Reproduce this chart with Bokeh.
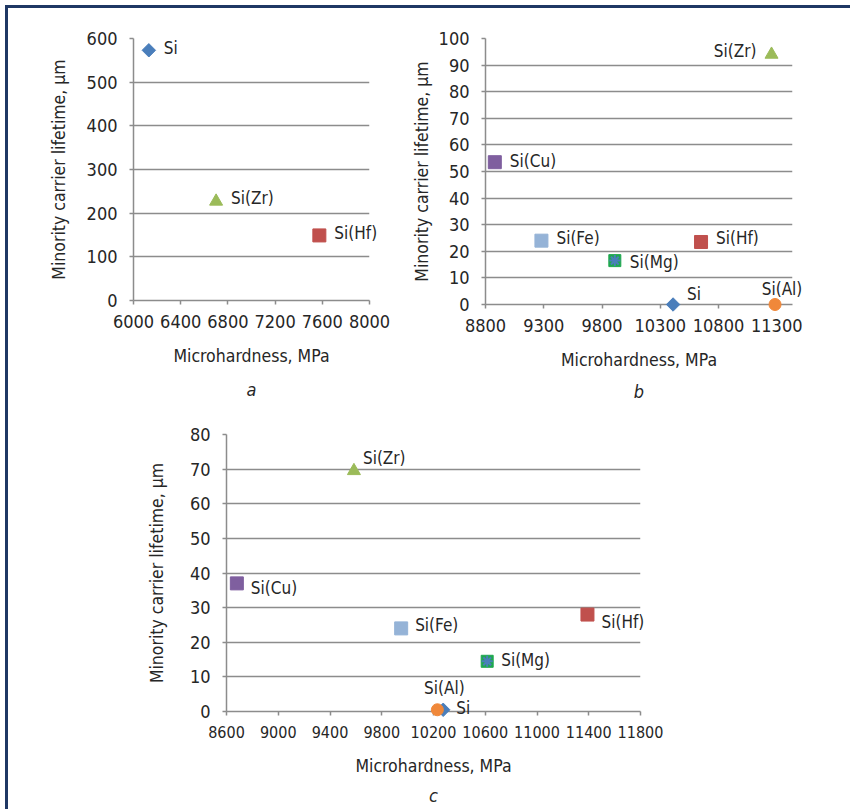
import math
from bokeh.plotting import figure
from bokeh.models import ColumnDataSource, Title, Range1d, FixedTicker, Spacer
from bokeh.layouts import column, row
from bokeh.core.properties import value
from bokeh.embed import file_html
from bokeh.resources import INLINE

# ---------------- data ----------------
a_names = ["Si", "Si(Zr)", "Si(Hf)"]
a_hardness = [6130, 6700, 7575]
a_lifetime = [573, 227, 149]

b_names = ["Si", "Si(Cu)", "Si(Fe)", "Si(Mg)", "Si(Hf)", "Si(Zr)", "Si(Al)"]
b_hardness = [10410, 8880, 9280, 9910, 10650, 11255, 11285]
b_lifetime = [0, 53.5, 24, 16.5, 23.5, 94, 0]

c_names = ["Si", "Si(Cu)", "Si(Fe)", "Si(Mg)", "Si(Hf)", "Si(Zr)", "Si(Al)"]
c_hardness = [10275, 8680, 9950, 10615, 11390, 9585, 10230]
c_lifetime = [0.5, 37, 24, 14.5, 28, 69.5, 0.5]

a_xticks = [6000, 6400, 6800, 7200, 7600, 8000]
a_yticks = [0, 100, 200, 300, 400, 500, 600]
b_xticks = [8800, 9300, 9800, 10300, 10800, 11300]
b_yticks = [0, 10, 20, 30, 40, 50, 60, 70, 80, 90, 100]
c_xticks = [8600, 9000, 9400, 9800, 10200, 10600, 11000, 11400, 11800]
c_yticks = [0, 10, 20, 30, 40, 50, 60, 70, 80]

X_TITLE = "Microhardness, MPa"
Y_TITLE = "Minority carrier lifetime, \u03bcm"

# ---------------- styles ----------------
FONT_STR = "DejaVu Sans Condensed, Roboto Condensed, Roboto, sans-serif"
TXT = "#262626"
GRID = "#8c8c8c"

MARKERS = {
    "Si":     dict(marker="square",   color="#4a7ebb", angle=math.pi / 4, size=9.5),
    "Si(Zr)": dict(marker="triangle", color="#9bbb59", angle=0, size=13),
    "Si(Hf)": dict(marker="square",   color="#c0504d", angle=0, size=13),
    "Si(Cu)": dict(marker="square",   color="#7f5f9f", angle=0, size=13),
    "Si(Fe)": dict(marker="square",   color="#95b3d7", angle=0, size=13),
    "Si(Mg)": dict(marker="square",   color="#1fa84f", angle=0, size=12),
    "Si(Al)": dict(marker="circle",   color="#f0883a", angle=0, size=12),
}

# label offsets (pixels: dx right, dy down) and alignment per chart
A_LAB = {"Si": (15, -2, "left"), "Si(Zr)": (15, -3, "left"), "Si(Hf)": (15, -2, "left")}
B_LAB = {"Si": (14, -11, "left"), "Si(Cu)": (15, -1, "left"), "Si(Fe)": (15, -3, "left"),
         "Si(Mg)": (15, 1, "left"), "Si(Hf)": (15, -4, "left"), "Si(Zr)": (-15, -3, "right"),
         "Si(Al)": (7, -16, "center")}
C_LAB = {"Si": (13, -2, "left"), "Si(Cu)": (14, 5, "left"), "Si(Fe)": (14, -3, "left"),
         "Si(Mg)": (14, -1, "left"), "Si(Hf)": (14, 7, "left"), "Si(Zr)": (9, -13, "left"),
         "Si(Al)": (7, -22, "center")}


def make_fig(names, hx, ly, xr, yr, xt, yt, fw, fh, bl, br, bt, bb, letter, labs,
             ystand, xstand, tstand, xfont):
    p = figure(x_range=Range1d(*xr), y_range=Range1d(*yr),
               frame_width=fw, frame_height=fh,
               min_border_left=bl, min_border_right=br,
               min_border_top=bt, min_border_bottom=bb,
               toolbar_location=None, output_backend="svg",
               outline_line_color=None, background_fill_color="white",
               border_fill_color="white")
    p.xgrid.visible = False
    p.ygrid.grid_line_color = GRID
    p.ygrid.grid_line_width = 1.5
    p.xaxis.ticker = FixedTicker(ticks=xt)
    p.yaxis.ticker = FixedTicker(ticks=yt)
    for ax in (p.xaxis, p.yaxis):
        ax.axis_line_color = GRID
        ax.axis_line_width = 1.5
        ax.major_tick_line_color = GRID
        ax.major_tick_line_width = 1.5
        ax.major_tick_in = 0
        ax.major_tick_out = 4
        ax.minor_tick_line_color = None
        ax.major_label_text_font = FONT_STR
        ax.major_label_text_font_size = "18px"
        ax.major_label_text_color = TXT
        ax.axis_label_text_font = FONT_STR
        ax.axis_label_text_font_size = "17.5px"
        ax.axis_label_text_font_style = "normal"
        ax.axis_label_text_color = TXT
    p.xaxis.major_label_text_font_size = xfont
    p.xaxis.major_label_standoff = 10
    p.yaxis.major_label_standoff = 12
    p.xaxis.axis_label = X_TITLE
    p.yaxis.axis_label = Y_TITLE
    p.xaxis.axis_label_standoff = xstand
    p.yaxis.axis_label_standoff = ystand

    for i, n in enumerate(names):
        m = MARKERS[n]
        src = ColumnDataSource(dict(x=[hx[i]], y=[ly[i]], t=[n]))
        r = p.scatter("x", "y", source=src, marker=m["marker"], size=m["size"],
                      angle=m["angle"], fill_color=m["color"], line_color=m["color"])
        r.level = "overlay"
        if n == "Si(Mg)":
            r2 = p.scatter("x", "y", source=src, marker="asterisk", size=11,
                           line_color="#4a7ebb", line_width=2)
            r2.level = "overlay"
        dx, dy, al = labs[n]
        t = p.text("x", "y", text="t", source=src, x_offset=dx, y_offset=dy,
                   text_align=al, text_baseline="middle",
                   text_font=value(FONT_STR), text_font_size="17px", text_color=TXT)
        t.level = "overlay"

    p.add_layout(Title(text=letter, align="center", text_font_style="italic",
                       text_font=FONT_STR, text_font_size="18px", text_color=TXT,
                       standoff=tstand),
                 "below")
    return p


pa = make_fig(a_names, a_hardness, a_lifetime, (6000, 8000), (0, 600), a_xticks, a_yticks,
              236, 262, 125, 39, 30, 108, "a", A_LAB, 15, 15, 16, "18px")
pb = make_fig(b_names, b_hardness, b_lifetime, (8800, 11435), (0, 100), b_xticks, b_yticks,
              307, 266, 76, 59, 30, 104, "b", B_LAB, 4, 15, 12, "18px")
pc = make_fig(c_names, c_hardness, c_lifetime, (8600, 11800), (0, 80), c_xticks, c_yticks,
              414, 277, 98, 60, 26, 98, "c", C_LAB, 20, 15, 8, "16px")

layout = column(row(pa, pb), row(Spacer(width=120, height=10), pc),
                styles={"margin": "8px 0 0 8px", "outline": "3px solid #1f3864",
                        "background-color": "white"})

open("out.html", "w").write(file_html(layout, INLINE))
